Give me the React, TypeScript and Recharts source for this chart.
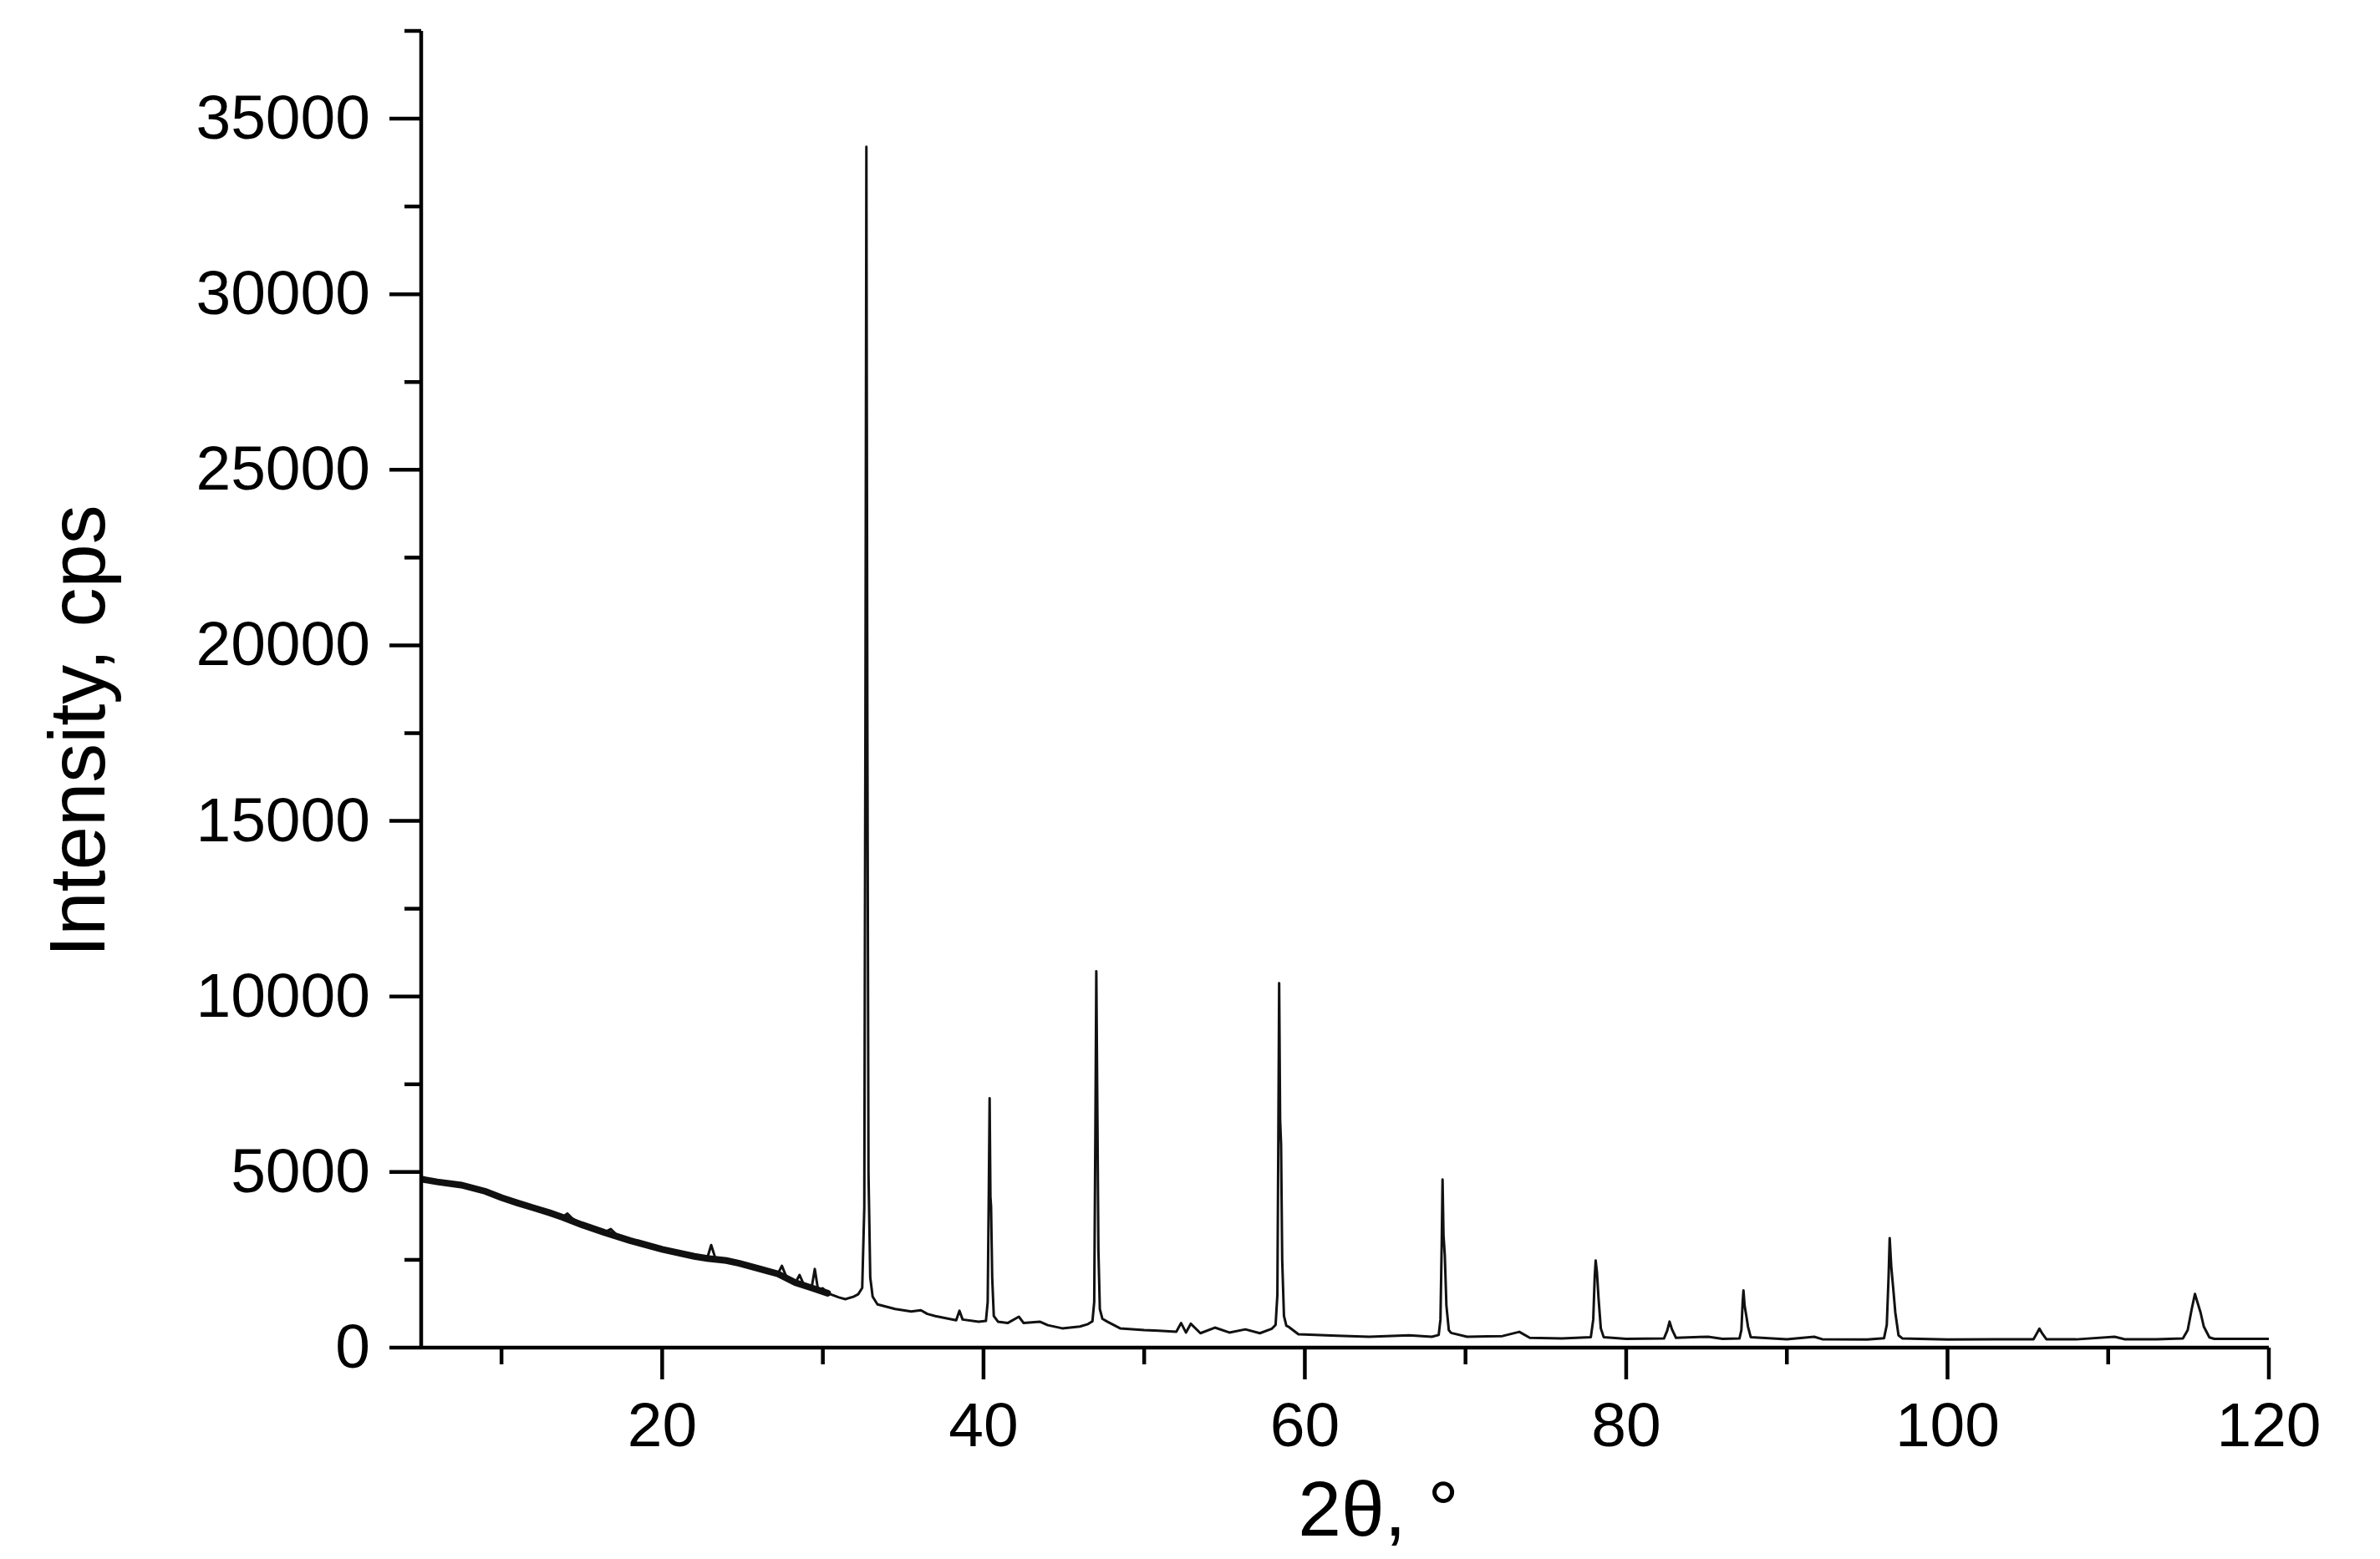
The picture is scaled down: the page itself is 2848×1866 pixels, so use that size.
import React from 'react';
import { LineChart, Line, XAxis, YAxis } from 'recharts';

// 2θ (degrees) and intensity (cps)
const twoTheta = [
  5.0, 5.5, 6.0, 6.8, 7.5, 8.2, 9.0, 10.0, 11.0, 12.0, 13.0, 13.8, 14.1, 14.4, 15.0, 16.0, 16.4, 16.8, 17.2, 18.0,
  19.0, 20.0, 21.0, 22.0, 22.8, 23.05, 23.3, 24.0, 24.8, 26.0, 27.2, 27.45, 27.7, 28.3, 28.55, 28.85, 29.3, 29.5, 29.7, 30.0,
  30.3, 31.0, 31.4, 31.9, 32.2, 32.45, 32.58, 32.65, 32.71, 32.77, 32.84, 32.95, 33.1, 33.4, 34.5, 35.5, 36.1, 36.5, 37.0, 38.3,
  38.5, 38.7, 39.7, 40.15, 40.26, 40.33, 40.38, 40.43, 40.47, 40.54, 40.64, 40.9, 41.5, 42.2, 42.5, 43.5, 44.0, 44.9, 46.0, 46.5,
  46.78, 46.89, 46.96, 47.02, 47.09, 47.15, 47.24, 47.4, 47.7, 48.5, 50.0, 50.9, 52.0, 52.3, 52.6, 52.9, 53.5, 54.4, 55.3, 56.3,
  57.2, 57.95, 58.18, 58.29, 58.35, 58.4, 58.46, 58.52, 58.59, 58.7, 58.85, 59.0, 59.6, 62.0, 64.0, 66.5, 67.9, 68.33, 68.44, 68.52,
  68.57, 68.63, 68.71, 68.81, 68.96, 69.1, 70.1, 72.3, 73.35, 74.0, 76.0, 77.8, 77.95, 78.04, 78.1, 78.18, 78.28, 78.42, 78.6, 80.0,
  82.35, 82.55, 82.7, 82.85, 83.1, 85.1, 86.0, 87.05, 87.17, 87.25, 87.3, 87.37, 87.48, 87.58, 87.75, 90.0, 91.7, 92.2, 95.0, 96.05,
  96.22, 96.33, 96.4, 96.5, 96.62, 96.75, 96.95, 97.2, 100.0, 103.0, 105.35, 105.55, 105.72, 105.9, 106.15, 108.0, 110.4, 111.0, 113.0, 114.65,
  114.95, 115.2, 115.4, 115.55, 115.75, 115.95, 116.3, 116.6, 118.0, 120.0,
];

const intensity = [
  4800, 4760, 4720, 4690, 4630, 4560, 4450, 4270, 4120, 3980, 3840, 3714, 3820, 3680, 3500, 3350, 3280, 3380, 3200, 3050,
  2920, 2800, 2700, 2600, 2540, 2920, 2560, 2480, 2400, 2250, 2100, 2330, 2050, 1850, 2070, 1760, 1700, 2240, 1650, 1690,
  1550, 1430, 1380, 1450, 1520, 1700, 4000, 18000, 34200, 18000, 5000, 2000, 1450, 1230, 1100, 1030, 1065, 960, 900, 780,
  1050, 800, 740, 760, 1300, 4500, 7100, 4300, 4020, 2000, 900, 740, 700, 880, 700, 740, 640, 550, 600, 670,
  750, 1300, 6000, 10720, 6500, 2800, 1100, 820, 740, 550, 500, 480, 450, 700, 430, 680, 410, 570, 430, 520,
  410, 540, 650, 1500, 6000, 10380, 6500, 5790, 2500, 900, 620, 590, 380, 340, 310, 350, 310, 360, 800, 3000,
  4790, 3200, 2640, 1200, 500, 420, 310, 330, 450, 280, 260, 300, 800, 2000, 2480, 2150, 1400, 550, 300, 250,
  260, 480, 740, 520, 280, 310, 250, 260, 500, 1300, 1630, 1200, 900, 600, 300, 240, 310, 240, 230, 270,
  650, 2000, 3120, 2300, 1690, 1000, 350, 260, 230, 235, 240, 400, 540, 400, 240, 235, 310, 240, 240, 260,
  500, 1100, 1530, 1300, 1000, 600, 290, 250, 250, 250,
];

// noisy low-angle background band (drawn wider, as in the reference)
const bandTwoTheta = [5.0, 6.0, 7.5, 9.0, 10.0, 11.0, 12.0, 13.0, 13.8, 15.0, 16.4, 18.0, 20.0, 22.0, 22.8, 24.0, 24.8, 26.0, 27.2, 28.3, 29.3, 30.3];
const bandIntensity = [4800, 4720, 4630, 4450, 4270, 4120, 3980, 3840, 3714, 3500, 3280, 3050, 2800, 2600, 2540, 2480, 2400, 2250, 2100, 1850, 1700, 1550];

const xTicks = [10, 20, 30, 40, 50, 60, 70, 80, 90, 100, 110, 120];
const xMajor = [20, 40, 60, 80, 100, 120];
const yTicks = [0, 2500, 5000, 7500, 10000, 12500, 15000, 17500, 20000, 22500, 25000, 27500, 30000, 32500, 35000, 37500];
const yMajor = [0, 5000, 10000, 15000, 20000, 25000, 30000, 35000];

const xTitle = '2θ, °';
const yTitle = 'Intensity, cps';

const pattern = twoTheta.map((x, i) => ({ x, y: intensity[i] }));
const band = bandTwoTheta.map((x, i) => ({ x, y: bandIntensity[i] }));

const FONT = '"Liberation Sans", Arial, Helvetica, sans-serif';
const INK = '#000';
const AXIS_W = 4.5;

const XTick = (props: any) => {
  const { x, y, payload } = props;
  const major = xMajor.includes(payload.value);
  return (
    <g>
      <line x1={x} x2={x} y1={y} y2={y + (major ? 38 : 20)} stroke={INK} strokeWidth={AXIS_W} />
      {major && (
        <text x={x} y={y + 118} textAnchor="middle" fontSize={75} fontFamily={FONT} fill={INK}>
          {String(payload.value)}
        </text>
      )}
    </g>
  );
};

const YTick = (props: any) => {
  const { x, y, payload } = props;
  const major = yMajor.includes(payload.value);
  return (
    <g>
      <line x1={x - (major ? 38 : 20)} x2={x} y1={y} y2={y} stroke={INK} strokeWidth={AXIS_W} />
      {major && (
        <text x={x - 61} y={y + 24} textAnchor="end" fontSize={75} fontFamily={FONT} fill={INK}>
          {String(payload.value)}
        </text>
      )}
    </g>
  );
};

const YTitle = (props: any) => {
  const vb = props.viewBox || {};
  const cx = (vb.x ?? 0) + 117;
  const cy = (vb.y ?? 0) + (vb.height ?? 0) / 2 + 50;
  return (
    <text x={cx} y={cy} transform={`rotate(-90 ${cx} ${cy})`} textAnchor="middle" fontSize={94} fontFamily={FONT} fill={INK}>
      {yTitle}
    </text>
  );
};

const XTitle = (props: any) => {
  const vb = props.viewBox || {};
  const cx = (vb.x ?? 0) + (vb.width ?? 0) / 2 + 40;
  const cy = (vb.y ?? 0) + 225;
  return (
    <text x={cx} y={cy} textAnchor="middle" fontSize={93} fontFamily={FONT} fill={INK}>
      {xTitle}
    </text>
  );
};

export default function App() {
  return (
    <div style={{ width: 2832, height: 1850, background: '#fff' }}>
      <LineChart width={2832} height={1850} margin={{ top: 29, right: 125, bottom: 0, left: 0 }}>
        <XAxis
          type="number"
          dataKey="x"
          domain={[5, 120]}
          ticks={xTicks}
          interval={0}
          allowDataOverflow
          height={245}
          tickSize={0}
          tickMargin={0}
          tickLine={false}
          axisLine={{ stroke: INK, strokeWidth: AXIS_W }}
          tick={<XTick />}
          label={XTitle}
        />
        <YAxis
          type="number"
          dataKey="y"
          domain={[0, 37500]}
          ticks={yTicks}
          interval={0}
          allowDataOverflow
          width={496}
          tickSize={0}
          tickMargin={0}
          tickLine={false}
          axisLine={{ stroke: INK, strokeWidth: AXIS_W }}
          tick={<YTick />}
          label={YTitle}
        />
        <Line
          data={band}
          dataKey="y"
          type="linear"
          stroke="#111"
          strokeWidth={8}
          strokeLinecap="round"
          dot={false}
          activeDot={false}
          isAnimationActive={false}
        />
        <Line
          data={pattern}
          dataKey="y"
          type="linear"
          stroke="#111"
          strokeWidth={3}
          strokeLinejoin="round"
          dot={false}
          activeDot={false}
          isAnimationActive={false}
        />
      </LineChart>
    </div>
  );
}
